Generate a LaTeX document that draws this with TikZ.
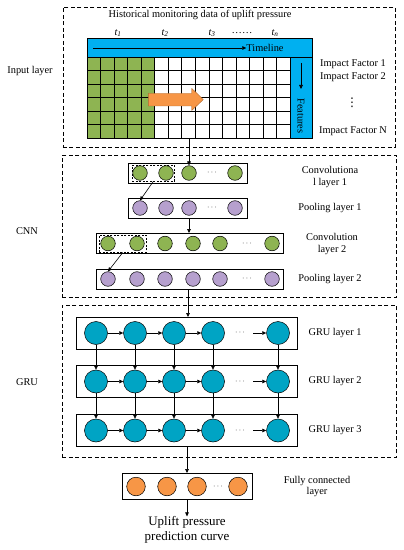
\documentclass[tikz,border=0pt]{standalone}
\usepackage{fontspec}
\setmainfont{Liberation Serif}
\newfontfamily\symfont{DejaVu Sans}
\usetikzlibrary{arrows.meta}
\definecolor{cgreen}{RGB}{142,180,82}
\definecolor{cblue}{RGB}{0,176,240}
\definecolor{corange}{RGB}{247,150,70}
\definecolor{cpurple}{RGB}{182,160,206}
\definecolor{cteal}{RGB}{0,164,196}
\begin{document}
\begin{tikzpicture}[x=1bp,y=-1bp,
  font=\fontsize{10.4}{12}\selectfont,
  lbl/.style={align=center,inner sep=0pt},
  grp/.style={draw,line width=0.7bp,dash pattern=on 4bp off 2.5bp,anchor=north west,inner sep=0pt},
  lay/.style={draw,line width=0.6bp,anchor=north west,inner sep=0pt},
  sdash/.style={draw,line width=0.5bp,dash pattern=on 2bp off 1.5bp,anchor=north west,inner sep=0pt},
  cir/.style={circle,draw,line width=0.5bp,inner sep=0pt},
  cg/.style={cir,fill=cgreen,minimum size=14.6bp},
  cp/.style={cir,fill=cpurple,minimum size=14.6bp},
  ct/.style={cir,fill=cteal,minimum size=23bp},
  co/.style={cir,fill=corange,minimum size=18.6bp},
  dts/.style={inner sep=0pt,font=\fontsize{8}{9}\selectfont},
  arr/.style={-{Triangle[length=4bp,width=3.6bp]},line width=0.6bp}]
\useasboundingbox (0,0) rectangle (403,550);

% ---------- group boxes ----------
\node[grp,minimum width=332.5bp,minimum height=140bp] (inbox) at (62.5,7) {};
\node[grp,minimum width=334bp,minimum height=142bp] (cnnbox) at (62,155) {};
\node[grp,minimum width=334bp,minimum height=152bp] (grubox) at (62,305) {};

\node[lbl] (linput) at (30,71) {Input layer};
\node[lbl] (lcnn) at (27,231) {CNN};
\node[lbl] (lgru) at (27,382) {GRU};

% ---------- input data grid ----------
\node[lbl] (title) at (200,15) {Historical monitoring data of uplift pressure};
\node[lbl] (t1) at (118,33) {\itshape t\textsubscript{1}};
\node[lbl] (t2) at (165,33) {\itshape t\textsubscript{2}};
\node[lbl] (t3) at (212,33) {\itshape t\textsubscript{3}};
\node[lbl] (tdots) at (242,33) {……};
\node[lbl] (tn) at (275,33) {\itshape t\textsubscript{n}};

\fill[cgreen] (87,57) rectangle (154.7,138);
\foreach \i in {1,...,14}{
  \draw[line width=0.5bp] ({87+\i*13.533},57) -- ({87+\i*13.533},138);
}
\foreach \j in {1,...,5}{
  \draw[line width=0.5bp] (87,{57+\j*13.5}) -- (290,{57+\j*13.5});
}
\draw[line width=0.6bp] (87,57) rectangle (290,138);
\draw[line width=0.6bp,fill=cblue] (87,38) rectangle (312,57);
\draw[line width=0.6bp,fill=cblue] (290,57) rectangle (312,138);
\node[lbl] (timeline) at (265,48) {Timeline};
\coordinate (tla) at (93,48);
\draw[arr] (tla) -- (timeline.west);
\node[lbl,rotate=-90] (features) at (301,116) {Features};
\coordinate (fta) at (301,63);
\draw[arr] (fta) -- (301,89);
\draw[line width=0.4bp,draw=corange!70!black,fill=corange]
  (148.3,93.3) -- (191.7,93.3) -- (191.7,88.3) -- (203.3,99.6) -- (191.7,110.5) -- (191.7,106) -- (148.3,106) -- cycle;

\node[lbl] (if1) at (353,64) {Impact Factor 1};
\node[lbl] (if2) at (353,77) {Impact Factor 2};
\node[lbl,font=\symfont\fontsize{12}{13}\selectfont] (ifd) at (352,103) {⋮};
\node[lbl] (ifn) at (353,131) {Impact Factor N};
\coordinate (gridb) at (189,138);

% ---------- CNN ----------
\node[lay,minimum width=119bp,minimum height=20bp] (c1) at (128,163) {};
\node[sdash,minimum width=42bp,minimum height=16bp] (d1) at (132,165) {};
\node[cg] (c1a) at (140,173) {};
\node[cg] (c1b) at (166,173) {};
\node[cg] (c1c) at (189,173) {};
\node[dts] (c1d) at (212,173) {$\cdots$};
\node[cg] (c1e) at (235,173) {};
\node[lbl] (lc1) at (330,177) {Convolutiona\\l layer 1};

\node[lay,minimum width=119bp,minimum height=20bp] (p1) at (128,198) {};
\node[cp] (p1a) at (140,208) {};
\node[cp] (p1b) at (166,208) {};
\node[cp] (p1c) at (189,208) {};
\node[dts] (p1d) at (212,208) {$\cdots$};
\node[cp] (p1e) at (235,208) {};
\node[lbl] (lp1) at (330,208.5) {Pooling layer 1};

\node[lay,minimum width=187bp,minimum height=20bp] (c2) at (96,233) {};
\node[sdash,minimum width=47bp,minimum height=17bp] (d2) at (99,235) {};
\node[cg] (c2a) at (108,243.5) {};
\node[cg] (c2b) at (137,243.5) {};
\node[cg] (c2c) at (165,243.5) {};
\node[cg] (c2d) at (193,243.5) {};
\node[cg] (c2e) at (220,243.5) {};
\node[dts] (c2f) at (247,243.5) {$\cdots$};
\node[cg] (c2g) at (272,243.5) {};
\node[lbl] (lc2) at (332,244.5) {Convolution\\layer 2};

\node[lay,minimum width=187bp,minimum height=20bp] (p2) at (96,269) {};
\node[cp] (p2a) at (108,279) {};
\node[cp] (p2b) at (137,279) {};
\node[cp] (p2c) at (165,279) {};
\node[cp] (p2d) at (193,279) {};
\node[cp] (p2e) at (220,279) {};
\node[dts] (p2f) at (247,279) {$\cdots$};
\node[cp] (p2g) at (272,279) {};
\node[lbl] (lp2) at (330,279.5) {Pooling layer 2};

\draw[arr] (gridb) -- (c1c.north);
\draw[arr] (d1.south) -- (p1a.north);
\draw[arr] (p1.south -| c1c) -- (c2.north -| c1c);
\draw[arr] (d2.south) -- (p2a.north);

% ---------- GRU ----------
\foreach \r/\y/\t in {1/317/333,2/365/381.5,3/414/430.5}{
  \node[lay,minimum width=221bp,minimum height=32bp] (g\r) at (76,\y) {};
  \node[ct] (g\r a) at (96,\t) {};
  \node[ct] (g\r b) at (135,\t) {};
  \node[ct] (g\r c) at (174,\t) {};
  \node[ct] (g\r d) at (213,\t) {};
  \node[dts] (g\r e) at (240,\t) {$\cdots$};
  \node[ct] (g\r f) at (278,\t) {};
  \node[lbl] (lg\r) at (335,\t) {GRU layer \r};
  \draw[arr] (g\r a) -- (g\r b);
  \draw[arr] (g\r b) -- (g\r c);
  \draw[arr] (g\r c) -- (g\r d);
  \coordinate (g\r s) at (253,\t);
  \draw[arr] (g\r s) -- (g\r f);
}
\foreach \a/\b in {1/2,2/3}{
  \foreach \k in {a,b,c,d,f}{
    \draw[arr] (g\a\k.south) -- (g\b\k.north);
  }
}
\coordinate (gin) at (188,289);
\draw[arr] (p2.south -| gin) -- (g1.north -| gin);

% ---------- fully connected ----------
\node[lay,minimum width=130bp,minimum height=26bp] (fc) at (122,473) {};
\node[co] (fa) at (136,486.5) {};
\node[co] (fb) at (167,486.5) {};
\node[co] (fcc) at (197,486.5) {};
\node[dts] (fd) at (218,486.5) {$\cdots$};
\node[co] (fe) at (238,486.5) {};
\node[lbl] (lfc) at (317,486.5) {Fully connected\\layer};
\coordinate (fin) at (187,447);
\draw[arr] (g3.south -| fin) -- (fc.north -| fin);
\node[lbl,font=\fontsize{13}{15}\selectfont] (out) at (187,530) {Uplift pressure\\prediction curve};
\draw[arr] (fc.south -| fin) -- (out.north -| fin);
\end{tikzpicture}
\end{document}
